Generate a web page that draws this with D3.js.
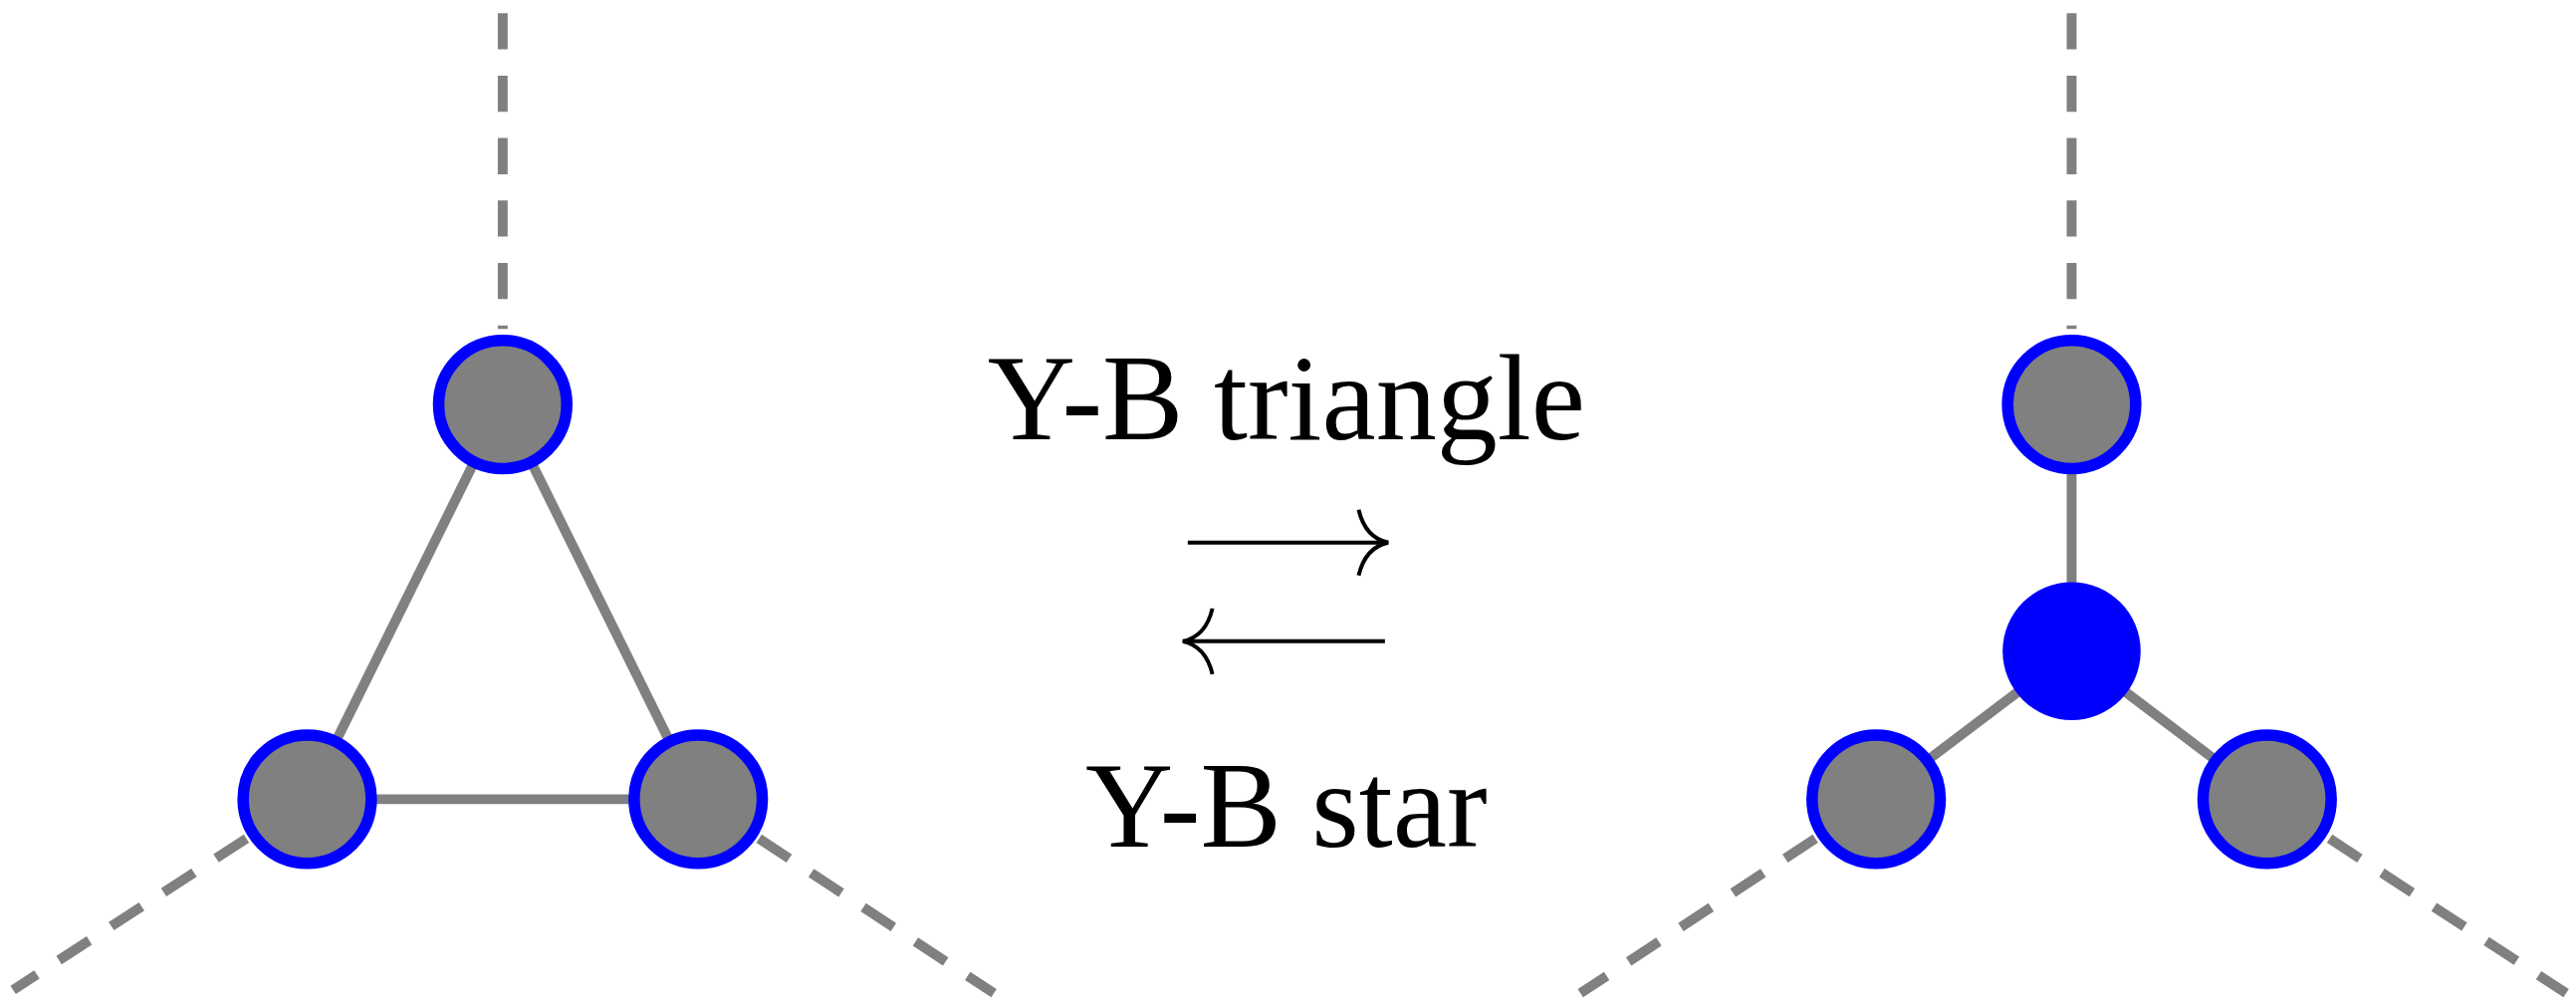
<!DOCTYPE html>
<html><head><meta charset="utf-8">
<script src="https://cdn.jsdelivr.net/npm/d3@7"></script>
<style>body{margin:0;background:#fff}</style>
</head><body><svg id="c" width="2587" height="1012"></svg>
<script>
// node positions in reference units (picture at 1568 x 613)
const nodes = [
  {id: "t1", x: 306, y: 246, kind: "ring"},
  {id: "t2", x: 187, y: 486, kind: "ring"},
  {id: "t3", x: 425, y: 486, kind: "ring"},
  {id: "s1", x: 1261, y: 246, kind: "ring"},
  {id: "s0", x: 1261, y: 396, kind: "hub"},
  {id: "s2", x: 1142, y: 486, kind: "ring"},
  {id: "s3", x: 1380, y: 486, kind: "ring"}
];
const edges = [["t1","t2"],["t2","t3"],["t3","t1"],["s0","s1"],["s0","s2"],["s0","s3"]];
const dashed = [
  [306, 8, 306, 200], [150, 510, 8, 602], [462, 510, 605, 604],
  [1261, 8, 1261, 200], [1105, 510, 962, 604], [1418, 510, 1562, 604]
];
const labels = [
  {text: "Y-B triangle", x: 783, y: 267},
  {text: "Y-B star", x: 783, y: 515}
];
const arrows = [
  {x1: 723, x2: 845, y: 330, dir: 1},
  {x1: 720, x2: 843, y: 390, dir: -1}
];

const x = d3.scaleLinear().domain([0, 1568]).range([0, 2587]);
const y = d3.scaleLinear().domain([0, 613]).range([0, 1012]);
const k = 2587 / 1568;
const svg = d3.select("#c");
const byId = new Map(nodes.map(d => [d.id, d]));

svg.selectAll(".dash").data(dashed).enter().append("line")
  .attr("x1", d => x(d[0])).attr("y1", d => y(d[1]))
  .attr("x2", d => x(d[2])).attr("y2", d => y(d[3]))
  .attr("stroke", "#808080").attr("stroke-width", 6 * k)
  .attr("stroke-dasharray", `${22 * k},${16 * k}`);

svg.selectAll(".edge").data(edges).enter().append("line")
  .attr("x1", d => x(byId.get(d[0]).x)).attr("y1", d => y(byId.get(d[0]).y))
  .attr("x2", d => x(byId.get(d[1]).x)).attr("y2", d => y(byId.get(d[1]).y))
  .attr("stroke", "#808080").attr("stroke-width", 6 * k);

svg.selectAll(".node").data(nodes).enter().append("circle")
  .attr("cx", d => x(d.x)).attr("cy", d => y(d.y))
  .attr("r", d => (d.kind == "hub" ? 42 : 39) * k)
  .attr("fill", d => d.kind == "hub" ? "#0000ff" : "#808080")
  .attr("stroke", "#0000ff").attr("stroke-width", d => d.kind == "hub" ? 0 : 7 * k);

svg.selectAll(".lab").data(labels).enter().append("text")
  .attr("x", d => x(d.x)).attr("y", d => y(d.y))
  .attr("text-anchor", "middle")
  .attr("font-family", "'Liberation Serif', serif")
  .attr("font-size", 74 * k)
  .text(d => d.text);

arrows.forEach(a => {
  const g = svg.append("g").attr("fill", "none").attr("stroke", "#000").attr("stroke-width", 2.4 * k);
  g.append("line").attr("x1", x(a.x1)).attr("x2", x(a.x2)).attr("y1", y(a.y)).attr("y2", y(a.y));
  const tip = a.dir > 0 ? a.x2 : a.x1, s = a.dir;
  g.append("path").attr("d",
    `M${x(tip - s * 18)},${y(a.y - 20)} Q${x(tip - s * 14)},${y(a.y - 3)} ${x(tip)},${y(a.y)}` +
    ` Q${x(tip - s * 14)},${y(a.y + 3)} ${x(tip - s * 18)},${y(a.y + 20)}`);
});
</script></body></html>
